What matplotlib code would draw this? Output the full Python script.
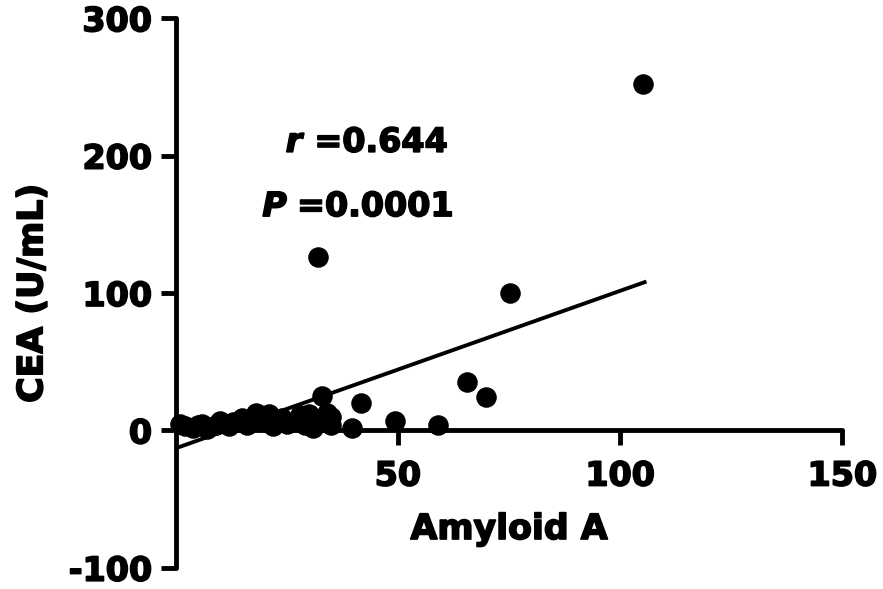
import matplotlib.pyplot as plt
import matplotlib.patheffects as pe

# Amyloid A vs CEA
amyloid_a = [1, 2, 4, 5, 6, 7, 9, 10, 12, 13, 15, 16, 17, 18, 19, 20, 21, 22, 24, 25,
             27, 28, 29, 30, 31, 32, 33, 34, 35, 35, 33, 39.6, 41.7, 49.3, 59, 32,
             65.5, 69.8, 75.2, 105.2]
cea = [5, 3, 2, 4, 5, 1, 4, 7, 3, 6, 9, 4, 8, 13, 11, 6, 12, 3, 9, 5,
       7, 11, 4, 12, 2, 8, 6, 13, 4, 10, 25, 2, 20, 7, 4, 126,
       35, 24, 100, 252]

# regression line
fit_slope = 1.146
fit_intercept = -13.0
fit_x = [0, 105.5]

x_ticks = [50, 100, 150]
y_ticks = [-100, 0, 100, 200, 300]

plt.rcParams['font.family'] = 'DejaVu Sans'
plt.rcParams['font.weight'] = 'bold'
plt.rcParams['axes.unicode_minus'] = False
heavy = [pe.withStroke(linewidth=1.2, foreground='black')]

fig = plt.figure(figsize=(8.83, 5.89), dpi=100)
ax = fig.add_axes([0.199, 0.036, 0.755, 0.933])

ax.scatter(amyloid_a, cea, s=190, color='black', zorder=3, clip_on=False)
ax.plot(fit_x, [fit_slope * v + fit_intercept for v in fit_x], color='black', lw=2.8)

ax.set_xlim(0, 150)
ax.set_ylim(-100, 300)
ax.spines['left'].set_position(('data', 0))
ax.spines['bottom'].set_position(('data', 0))
ax.spines['right'].set_visible(False)
ax.spines['top'].set_visible(False)
for s in ['left', 'bottom']:
    ax.spines[s].set_linewidth(3.5)
    ax.spines[s].set_capstyle('round')

ax.set_xticks(x_ticks)
ax.set_yticks(y_ticks)
ax.tick_params(width=3.5, length=11, labelsize=24, pad=6)
ax.tick_params(axis='x', pad=10)
for lab in ax.get_xticklabels() + ax.get_yticklabels():
    lab.set_path_effects(heavy)

ax.set_xlabel('Amyloid A', fontsize=25, fontweight='bold', labelpad=14, path_effects=heavy)
ax.set_ylabel('CEA (U/mL)', fontsize=25, fontweight='bold', labelpad=14, path_effects=heavy)

ax.text(0.165, 0.757, 'r', transform=ax.transAxes, fontsize=24, fontweight='bold',
        style='italic', path_effects=heavy)
ax.text(0.208, 0.757, '=0.644', transform=ax.transAxes, fontsize=24, fontweight='bold',
        path_effects=heavy)
ax.text(0.13, 0.64, 'P', transform=ax.transAxes, fontsize=24, fontweight='bold',
        style='italic', path_effects=heavy)
ax.text(0.182, 0.64, '=0.0001', transform=ax.transAxes, fontsize=24, fontweight='bold',
        path_effects=heavy)

fig.savefig('out.png', dpi=100)
